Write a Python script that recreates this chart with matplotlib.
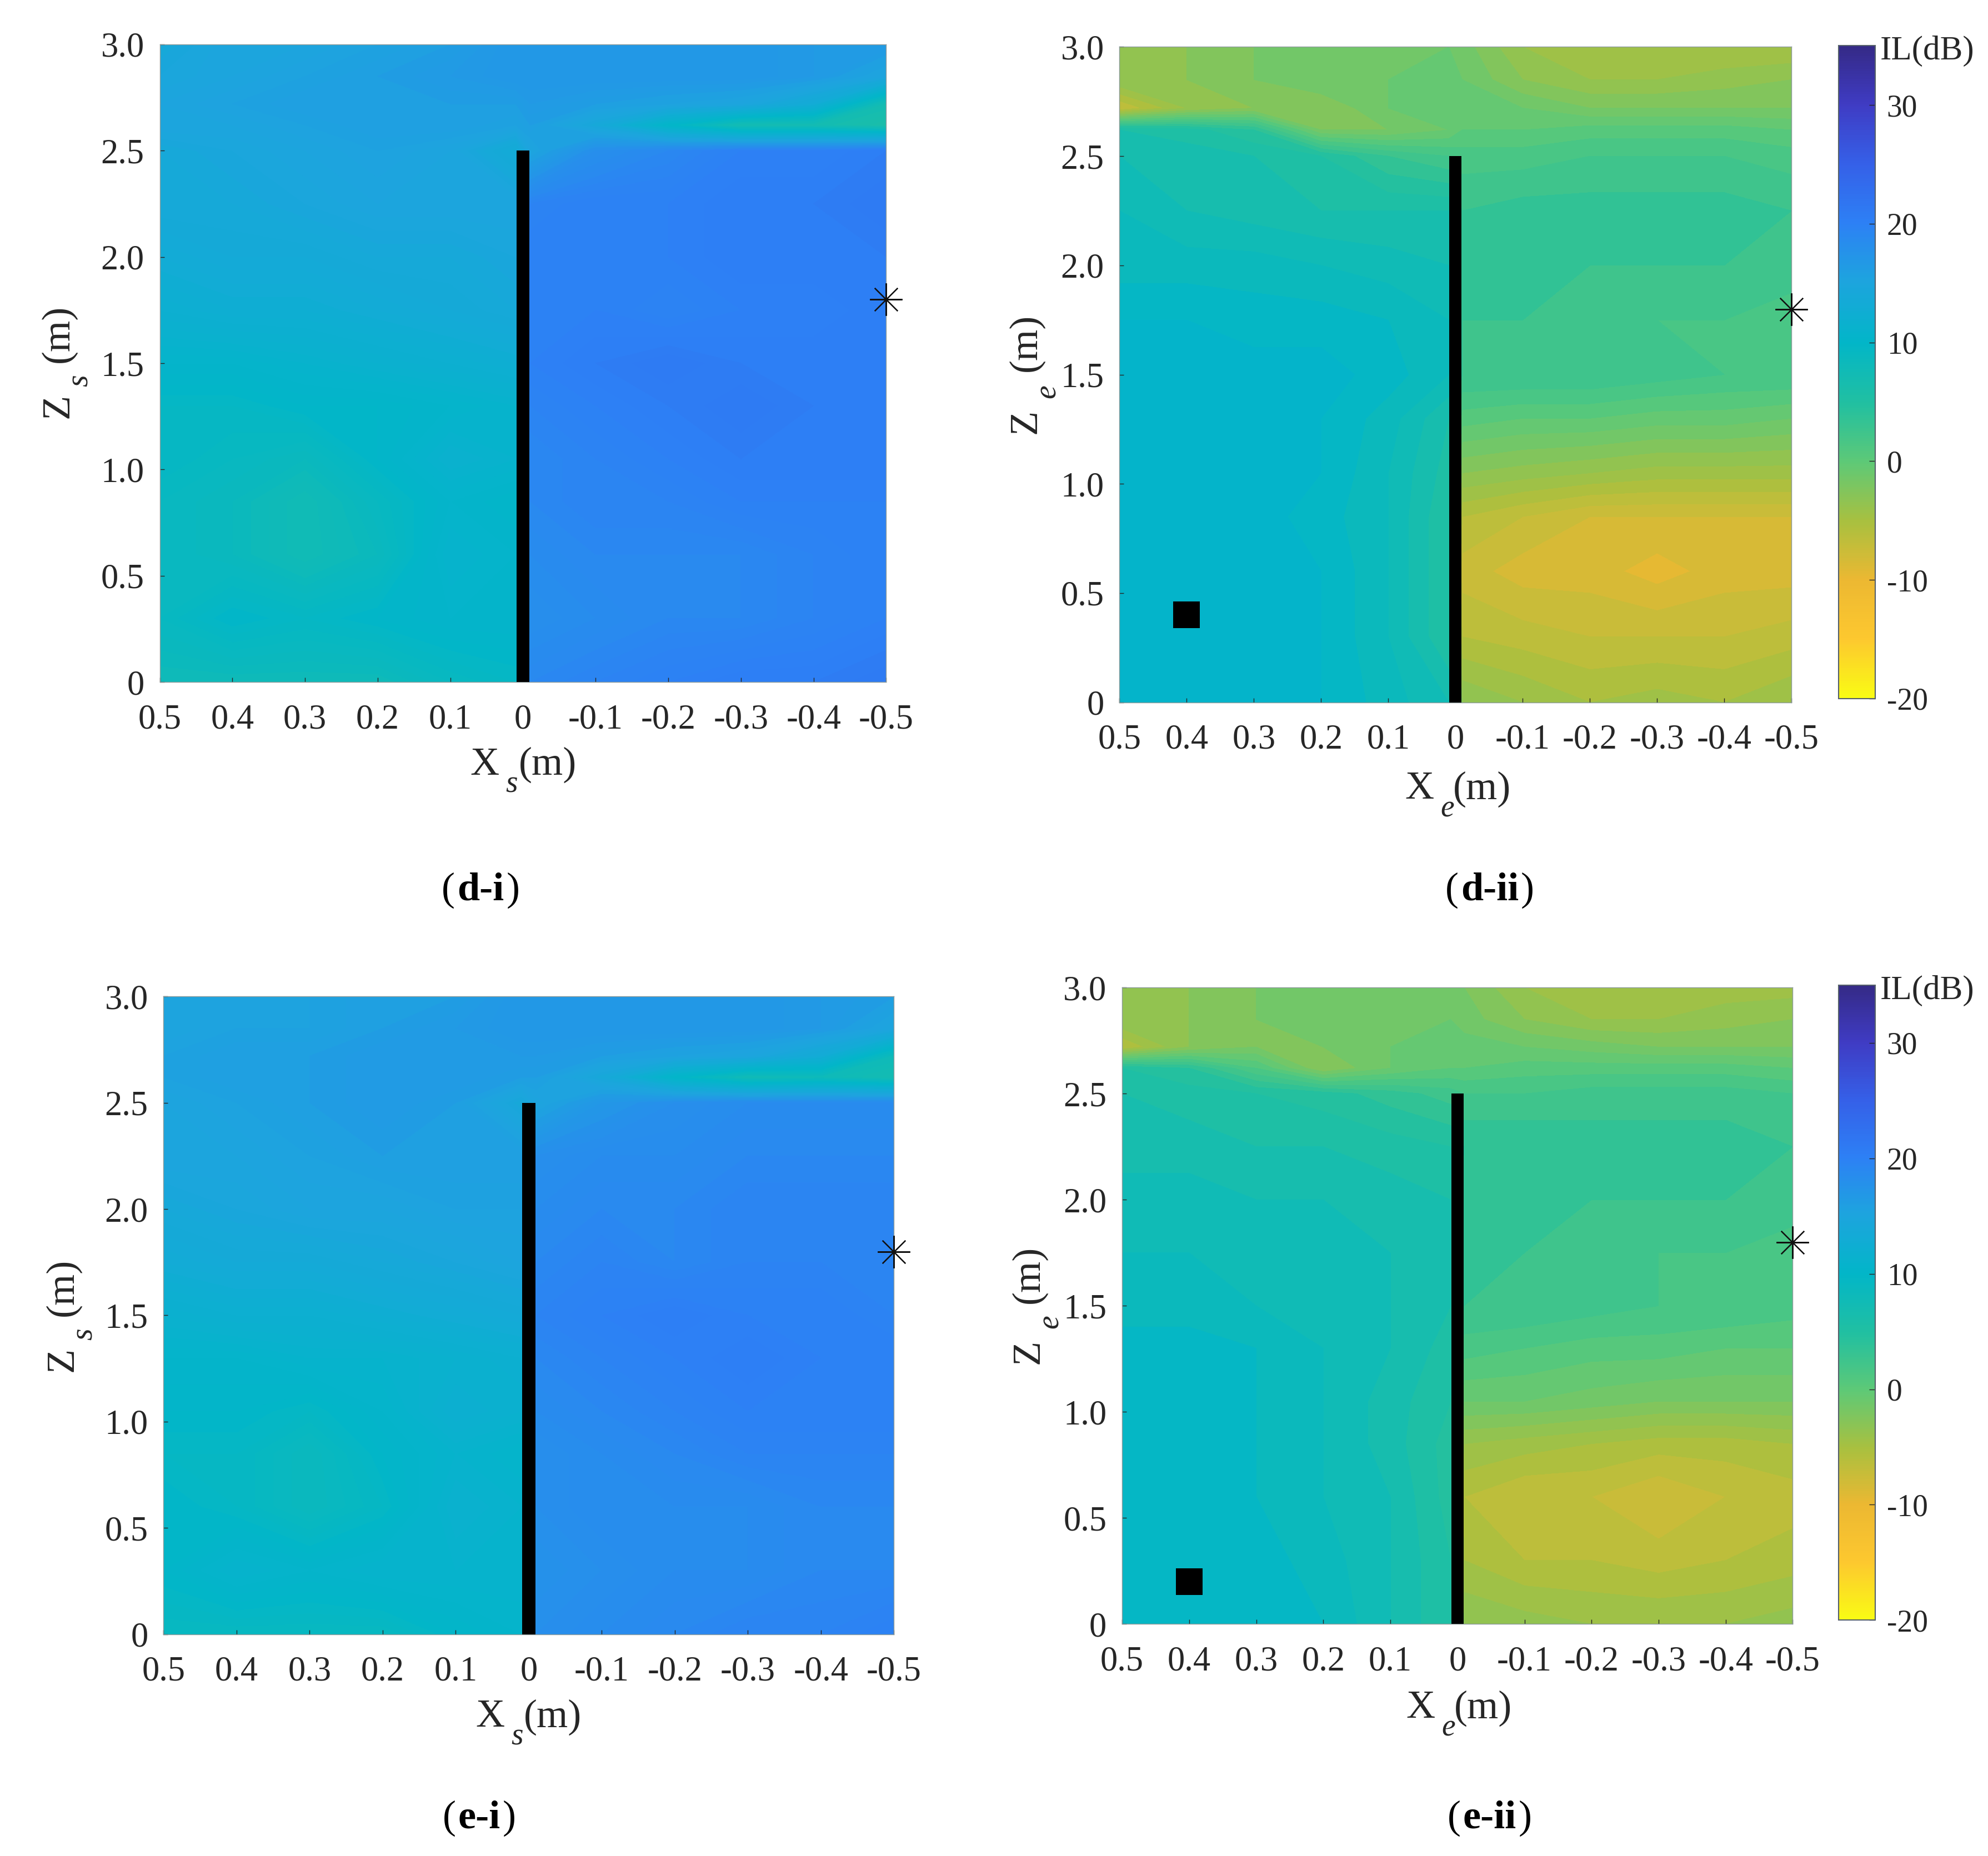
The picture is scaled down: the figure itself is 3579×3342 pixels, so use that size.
import numpy as np
import matplotlib
matplotlib.use("Agg")
import matplotlib.pyplot as plt
from matplotlib.colors import LinearSegmentedColormap, Normalize
from matplotlib.cm import ScalarMappable
from matplotlib.patches import Rectangle

plt.rcParams['font.family'] = ['Liberation Serif', 'DejaVu Serif']

x_grid = [0.5, 0.4, 0.3, 0.2, 0.1, 0.01, -0.01, -0.1, -0.2, -0.3, -0.4, -0.5]
z_grid = [0, 0.3, 0.6, 0.85, 1.05, 1.3, 1.5, 1.75, 2.0, 2.25, 2.5, 2.62, 2.72, 2.85, 3.0]

il_d_i = [
    [8, 8, 8, 8, 9, 9.5, 19, 19.5, 20, 20.5, 20.5, 21],
    [9, 10, 9.5, 10, 10.5, 10.5, 18, 18.5, 19, 19, 19.5, 20],
    [9, 8.5, 7.5, 8.5, 11, 10.5, 18.5, 19, 19, 19, 19.5, 20],
    [9, 8.5, 7.5, 9, 10.5, 10, 19, 19.5, 19.5, 20, 20, 20],
    [9.5, 9, 8.5, 10, 11.5, 11, 19, 19.5, 20, 20.5, 20.5, 20.5],
    [9.5, 9.5, 10, 10, 10.5, 11, 19.5, 20, 20.5, 21, 20.5, 20.5],
    [10.5, 10.5, 11, 11.5, 12, 12.5, 20, 20.5, 21, 20.5, 20.5, 20.5],
    [12, 12.5, 12.5, 13, 13.5, 14, 20, 20, 19.5, 20, 20, 20.5],
    [13, 13.5, 13.5, 14, 14, 14.5, 20, 20, 20, 20.5, 20.5, 20.5],
    [14, 14, 14.5, 15, 15, 15, 19.5, 20, 20, 20.5, 20.5, 21],
    [14, 14.5, 15, 15.5, 15, 13, 15, 18, 19, 20, 20, 20.5],
    [15, 15, 15.5, 16, 16, 15.5, 16, 14, 10, 7, 7, 6],
    [15, 15.5, 16, 16, 16, 16, 16.5, 16, 15.5, 15, 13, 7],
    [14.5, 15, 15.5, 16, 16.5, 17, 17, 17, 17, 17, 16.5, 15],
    [14, 15, 15, 15.5, 16, 17, 17, 17, 17, 17, 16.5, 16.5],
]
il_d_ii = [
    [10.5, 10.5, 10.5, 10, 8.5, 7, -3, -4, -5, -4.5, -5, -4],
    [11, 11, 10.5, 10, 8, 5, -6, -6.5, -7, -7, -7, -6.5],
    [11, 11, 10.5, 10, 8, 5, -7.5, -8.5, -8.5, -9.5, -8.5, -8.5],
    [11, 11, 10.5, 9.5, 8, 5, -6, -7, -8, -8, -8, -8],
    [11, 11, 11, 10, 8, 5.5, -3, -3.5, -4, -4.5, -4.5, -4.5],
    [11, 11, 10.5, 10, 8.5, 6, 0.5, 0, 0, -0.5, -0.5, -1],
    [10.5, 10.5, 10.5, 10.5, 9.5, 8, 3, 3, 3, 2.5, 2, 2],
    [10, 10, 9.5, 9.5, 9, 8, 3, 3, 2.5, 2, 2, 1.5],
    [8.5, 8.5, 8.5, 8, 7.5, 7, 3.5, 3.5, 3, 3, 3, 2.5],
    [8, 7, 6.5, 6, 6, 6, 3, 3.5, 3.5, 3.5, 3.5, 3],
    [7, 6.5, 6, 5, 3, 2, 1.5, 1.5, 2, 2, 2, 1.5],
    [6, 5.5, 4, -2, -2, -1, 0, 0, 0.5, 0.5, 0.5, 0],
    [-7, -4, -3, -3, -1, 0, 0, -1, -2, -2, -2, -2],
    [-3, -3, -2, -1, -1, -0.5, -1, -3, -4, -4, -3.5, -3],
    [-3, -3, -2, -1, -1, -1, -1.5, -4, -5, -5, -5, -5],
]
il_e_i = [
    [9, 9, 9, 9, 10, 10.5, 18, 18.5, 19, 19.5, 19.5, 20],
    [10, 11, 10.5, 11, 11, 11, 17.5, 18, 18.5, 18.5, 19, 19],
    [10, 9.5, 8.5, 9.5, 11.5, 11, 18, 18.5, 18.5, 18.5, 19, 19],
    [9.5, 9.5, 8.5, 10, 11, 10.5, 18, 18.5, 19, 19.5, 19.5, 19.5],
    [10, 10, 9.5, 10.5, 12, 11.5, 18.5, 19, 19.5, 20, 20, 20],
    [10.5, 10.5, 11, 11, 11.5, 12, 19, 19.5, 20, 20.5, 20, 20],
    [11.5, 12, 12, 12.5, 13, 13.5, 19.5, 20, 20.5, 20, 20, 19.5],
    [13, 13.5, 13.5, 14, 14.5, 15, 19, 19.5, 19, 19.5, 19.5, 19.5],
    [14, 14.5, 15, 15, 15.5, 15.5, 18.5, 19, 19, 19.5, 19.5, 19.5],
    [15, 15, 15.5, 16, 16, 16, 18, 18.5, 18.5, 19, 19, 19],
    [15, 15.5, 16, 16.5, 16, 14, 15, 17, 18, 18.5, 18.5, 18.5],
    [15.5, 16, 16, 16.5, 16.5, 16, 16, 14, 10, 7.5, 8, 7],
    [15.5, 16, 16, 16.5, 16.5, 16.5, 16.5, 16, 15.5, 15, 13, 8],
    [15, 15.5, 15.5, 16, 16.5, 17, 17, 17, 17, 17, 16.5, 15],
    [15, 15.5, 15.5, 16, 16, 17, 17, 17, 17, 17, 16.5, 16],
]
il_e_ii = [
    [9.5, 10, 10, 9, 7, 5, -3, -3.5, -4, -4, -4, -3.5],
    [10, 10, 9.5, 8.5, 7, 5, -5, -6, -6, -6.5, -6, -5.5],
    [9.5, 9.5, 9, 8, 7, 4.5, -6, -7, -7, -8, -7, -6.5],
    [9.5, 9.5, 9, 8, 6.5, 4.5, -4, -4.5, -5, -5.5, -5.5, -5],
    [9.5, 9.5, 9, 8, 6.5, 5, -1, -1, -1.5, -2, -2, -2],
    [9.5, 9.5, 9, 8, 7, 5.5, 1.5, 1, 0.5, 0.5, 0, 0],
    [8.5, 8.5, 8, 8, 7, 6, 3, 3, 2.5, 2, 2, 1.5],
    [8, 8, 8, 7.5, 7, 6, 3.5, 3, 2.5, 2, 2, 1.5],
    [7.5, 7.5, 7, 7, 6.5, 6, 3.5, 3.5, 3, 3, 3, 2.5],
    [6.5, 6.5, 6, 6, 5.5, 5, 4, 4, 3.5, 3.5, 3.5, 3],
    [6, 5.5, 5, 4.5, 3.5, 2.5, 2, 2, 2.5, 2.5, 2.5, 2],
    [5, 4, 1, -3, -1, 0, 0, 0.5, 0.5, 0.5, 0.5, 0],
    [-6, -3, -2, -2, -1, 0, -0.5, -1, -1.5, -2, -2, -2],
    [-3, -3, -2, -1, -1, -1, -1.5, -3, -4, -4, -3.5, -3],
    [-3, -3, -2, -1, -1, -1, -2, -4, -4.5, -4.5, -4.5, -4.5],
]

x_ticks = [0.5, 0.4, 0.3, 0.2, 0.1, 0, -0.1, -0.2, -0.3, -0.4, -0.5]
x_tick_labels = ['0.5', '0.4', '0.3', '0.2', '0.1', '0', '-0.1', '-0.2', '-0.3', '-0.4', '-0.5']
z_ticks = [0, 0.5, 1.0, 1.5, 2.0, 2.5, 3.0]
z_tick_labels = ['0', '0.5', '1.0', '1.5', '2.0', '2.5', '3.0']
cb_ticks = [-20, -10, 0, 10, 20, 30]
cb_tick_labels = ['-20', '-10', '0', '10', '20', '30']

W, H = 1568.0, 1464.0
parula_stops = [
    (0.0, '#f9fb14'), (0.09, '#fdc82f'), (0.18, '#ecb832'), (0.27, '#a9c03f'),
    (0.36, '#5fc976'), (0.45, '#22c0a0'), (0.545, '#02b6c8'), (0.64, '#1da4de'),
    (0.73, '#2d80f5'), (0.82, '#3560e8'), (0.91, '#3f3cc4'), (1.0, '#352a87'),
]
parula_r = LinearSegmentedColormap.from_list('parula_r', parula_stops, N=256)
norm = Normalize(-20, 35)

fig = plt.figure(figsize=(35.79, 33.42), dpi=100, facecolor='white')


def box(l, t, r, b):
    return [l / W, 1 - b / H, (r - l) / W, (b - t) / H]


def t(x, y, s, size, rot=0, ha='center', va='baseline', **kw):
    return fig.text(x / W, 1 - y / H, s, fontsize=size, rotation=rot, ha=ha, va=va,
                    rotation_mode='anchor', color='#262626', **kw)


def panel(rect, data, levels_n, source=None):
    ax = fig.add_axes(box(*rect))
    ax.contourf(x_grid, z_grid, np.array(data), levels=np.linspace(-20, 35, levels_n),
                cmap=parula_r, norm=norm, antialiased=False)
    ax.set_xlim(0.5, -0.5)
    ax.set_ylim(0, 3)
    ax.set_xticks(x_ticks, x_tick_labels)
    ax.set_yticks(z_ticks, z_tick_labels)
    ax.tick_params(direction='in', length=6, width=1, labelsize=45, colors='#262626',
                   pad=28)
    ax.tick_params(axis='y', pad=20)
    for s in ax.spines.values():
        s.set_linewidth(1)
        s.set_color('#8c9a9a')
    ax.add_patch(Rectangle((-0.009, 0), 0.018, 2.5, color='black', lw=0, zorder=5))
    ax.plot([-0.5], [1.8], marker=(8, 2, 0), ms=42, mew=1.6, color='#111111',
            clip_on=False, zorder=6, ls='none')
    if source is not None:
        ax.plot([source[0]], [source[1]], marker='s', ms=34, color='black', mew=0, zorder=6,
                ls='none')
    return ax


def labels(xx, xy, sub, yx, yy, gap_s, gap_m):
    t(xx, xy, 'X', 52, ha='left')
    t(xx + 28, xy + 14, sub, 40, ha='left', style='italic')
    t(xx + 38, xy, '(m)', 52, ha='left')
    t(yx, yy, 'Z', 52, rot=90, ha='left')
    t(yx + 15.5, yy - gap_s, sub, 40, rot=90, ha='left', style='italic')
    t(yx, yy - gap_m, '(m)', 52, rot=90, ha='left')


def caption(cx, cy, s):
    fig.canvas.draw()
    r = fig.canvas.get_renderer()
    mid = fig.text(cx / W, 1 - cy / H, s, fontsize=52, weight='bold', ha='center',
                   va='baseline', color='black')
    ext = mid.get_window_extent(r)
    fig.text(ext.x0 - 4, 3342 * (1 - cy / H), '(', fontsize=52, ha='right', va='baseline',
             transform=None, color='black')
    fig.text(ext.x1 + 4, 3342 * (1 - cy / H), ')', fontsize=52, ha='left', va='baseline',
             transform=None, color='black')


def colorbar(rect, top_y):
    cax = fig.add_axes(box(*rect))
    cb = fig.colorbar(ScalarMappable(norm=norm, cmap=parula_r), cax=cax)
    cb.set_ticks(cb_ticks, labels=cb_tick_labels)
    cb.ax.tick_params(direction='in', length=8, width=1, labelsize=40, colors='#262626', pad=15)
    cb.outline.set_linewidth(1.5)
    cb.outline.set_edgecolor('#55606a')
    t(1483, top_y, 'IL(dB)', 44, ha='left')


panel((126, 35, 699, 538), il_d_i, 221)
panel((883, 37, 1413, 554), il_d_ii, 56, source=(0.4, 0.4))
panel((129, 786, 705, 1289), il_e_i, 221)
panel((885, 779, 1414, 1281), il_e_ii, 56, source=(0.4, 0.2))

labels(371, 611, 's', 53.5, 330, 25, 44)
labels(1108, 630, 'e', 817, 342, 28, 49)
labels(375, 1362, 's', 57, 1082, 25, 44)
labels(1109, 1355, 'e', 819, 1076, 28, 48)

colorbar((1450, 36, 1479, 551), 47)
colorbar((1450, 777, 1479, 1278), 788)

caption(379, 710, 'd-i')
caption(1175, 710, 'd-ii')
caption(378, 1442, 'e-i')
caption(1175, 1442, 'e-ii')

fig.savefig('out.png', dpi=100, facecolor='white')
